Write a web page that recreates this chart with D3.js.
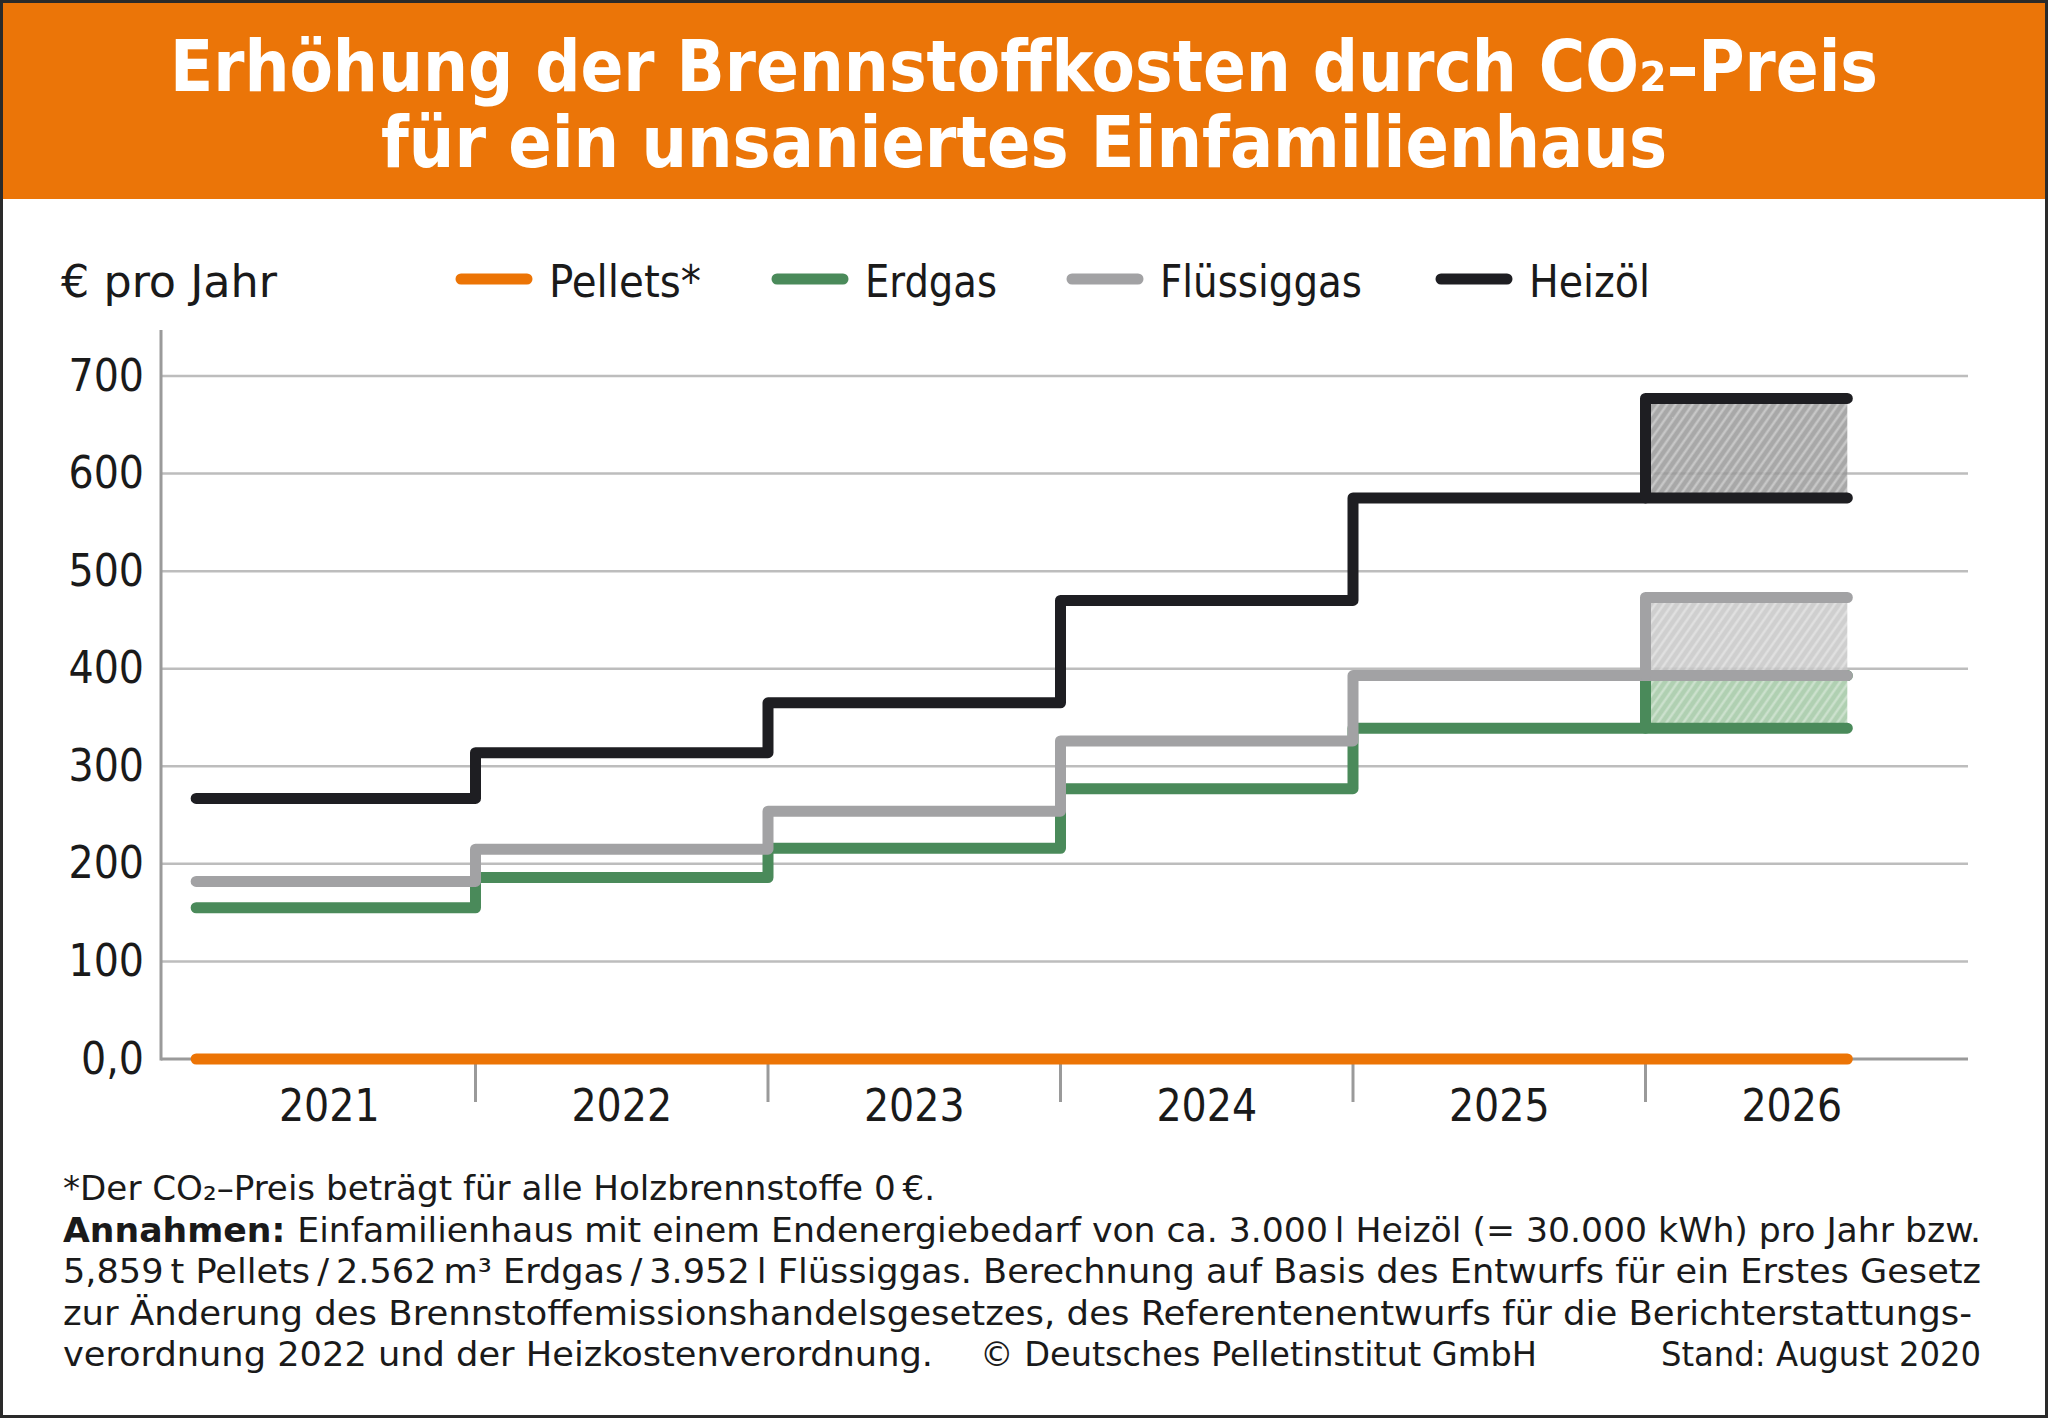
<!DOCTYPE html>
<html>
<head>
<meta charset="utf-8">
<script src="https://cdn.jsdelivr.net/npm/d3@7"></script>
<style>
  body { margin: 0; background: #fff; }
  svg { display: block; }
  text { font-family: "DejaVu Sans Condensed", "DejaVu Sans", sans-serif; font-stretch: condensed; }
</style>
</head>
<body>
<svg id="chart" width="2048" height="1418"></svg>
<script>
// data (€ per year)
const years = ["2021", "2022", "2023", "2024", "2025", "2026"];
const seriesNames = ["Pellets*", "Erdgas", "Flüssiggas", "Heizöl"];
const pellets = [0, 0, 0, 0, 0, 0];
const erdgas = [155, 186, 216, 277, 339, 339];
const fluessiggas = [182, 215, 254, 326, 393, 393];
const heizoel = [267, 314, 365, 470, 575, 575];
// upper end of the 2026 range, same order as seriesNames
const max2026 = [0, 393, 473, 677];
const yTicks = [0, 100, 200, 300, 400, 500, 600, 700];
const yTickLabels = ["0,0", "100", "200", "300", "400", "500", "600", "700"];

const lineColors = ["#ec7405", "#4a8a5a", "#a2a2a4", "#1e1e22"];
const areaColors = [null, "#a2c8a4", "#c6c6c6", "#999999"];

const svg = d3.select("#chart");
const W = 2048, H = 1418;

function fit(sel, len) {
  sel.attr("textLength", len).attr("lengthAdjust", "spacingAndGlyphs");
  return sel;
}

// title bar
svg.append("rect").attr("x", 0).attr("y", 0).attr("width", W).attr("height", 199).attr("fill", "#eb7508");
fit(svg.append("text").attr("x", W / 2).attr("y", 91).attr("text-anchor", "middle")
  .attr("fill", "#fff").attr("font-size", 72).attr("font-weight", "bold")
  .text("Erhöhung der Brennstoffkosten durch CO₂–Preis"), 1708);
fit(svg.append("text").attr("x", W / 2).attr("y", 167).attr("text-anchor", "middle")
  .attr("fill", "#fff").attr("font-size", 72).attr("font-weight", "bold")
  .text("für ein unsaniertes Einfamilienhaus"), 1286);

// scales
const x = d3.scaleBand().domain(years).range([183, 1938]);
const y = d3.scaleLinear().domain([0, 700]).range([1059, 376]);
const bw = x.bandwidth();
const plotLeft = 161, plotRight = 1968;
const xs = x(years[0]) + bw * 0.045;
const xe = x(years[5]) + bw * 0.69;

// legend
fit(svg.append("text").attr("x", 61).attr("y", 297).attr("font-size", 45).attr("fill", "#1a1a1a")
  .text("€ pro Jahr"), 216);
const legendX = [461, 777, 1072, 1441];
const legendW = [152, 132, 202, 121];
seriesNames.forEach((name, i) => {
  svg.append("line").attr("x1", legendX[i]).attr("x2", legendX[i] + 66)
    .attr("y1", 279).attr("y2", 279)
    .attr("stroke", lineColors[i]).attr("stroke-width", 11).attr("stroke-linecap", "round");
  fit(svg.append("text").attr("x", legendX[i] + 88).attr("y", 297).attr("font-size", 45)
    .attr("fill", "#1a1a1a").text(name), legendW[i]);
});

// grid
svg.append("g").selectAll("line").data(yTicks.slice(1)).join("line")
  .attr("x1", plotLeft).attr("x2", plotRight)
  .attr("y1", d => y(d)).attr("y2", d => y(d))
  .attr("stroke", "#bdbdbd").attr("stroke-width", 2.5);

// y axis
const yAxis = svg.append("g").attr("transform", `translate(${plotLeft},0)`)
  .call(d3.axisLeft(y).tickValues(yTicks).tickFormat((d, i) => yTickLabels[i]).tickSize(0).tickPadding(17));
yAxis.select(".domain").remove();
yAxis.selectAll("text").attr("font-size", 44).attr("fill", "#1a1a1a")
  .style("font-family", "\"DejaVu Sans Condensed\", \"DejaVu Sans\", sans-serif");
svg.append("line").attr("x1", plotLeft).attr("x2", plotLeft).attr("y1", 330).attr("y2", y(0) + 1.5)
  .attr("stroke", "#9a9a9a").attr("stroke-width", 3);
svg.append("line").attr("x1", plotLeft).attr("x2", plotRight).attr("y1", y(0)).attr("y2", y(0))
  .attr("stroke", "#9a9a9a").attr("stroke-width", 3);

// x axis: year labels, ticks between years
const xAxis = svg.append("g").attr("transform", `translate(0,${y(0)})`)
  .call(d3.axisBottom(x).tickSize(0));
xAxis.select(".domain").remove();
xAxis.selectAll("text").attr("y", 62).attr("dy", 0).attr("font-size", 44).attr("fill", "#1a1a1a")
  .style("font-family", "\"DejaVu Sans Condensed\", \"DejaVu Sans\", sans-serif");
svg.append("g").selectAll("line").data(years.slice(1)).join("line")
  .attr("x1", d => x(d)).attr("x2", d => x(d))
  .attr("y1", y(0)).attr("y2", y(0) + 43)
  .attr("stroke", "#9a9a9a").attr("stroke-width", 3);

// hatch patterns for the 2026 range
const defs = svg.append("defs");
areaColors.forEach((c, i) => {
  if (!c) return;
  const p = defs.append("pattern").attr("id", "hatch" + i).attr("patternUnits", "userSpaceOnUse")
    .attr("width", 7).attr("height", 7).attr("patternTransform", "rotate(35)");
  p.append("rect").attr("width", 7).attr("height", 7).attr("fill", c);
  p.append("line").attr("x1", 1.5).attr("x2", 1.5).attr("y1", 0).attr("y2", 7)
    .attr("stroke", "#fff").attr("stroke-opacity", 0.4).attr("stroke-width", 2.2);
});

const allSeries = [pellets, erdgas, fluessiggas, heizoel];

// areas
const area = d3.area().x(d => d[0]).y0(d => y(d[1])).y1(d => y(d[2]));
allSeries.forEach((vals, i) => {
  if (!areaColors[i]) return;
  svg.append("path")
    .attr("d", area([[x(years[5]), vals[5], max2026[i]], [xe, vals[5], max2026[i]]]))
    .attr("fill", `url(#hatch${i})`).attr("opacity", 0.85);
});

// step lines
const step = d3.line().x(d => d[0]).y(d => y(d[1])).curve(d3.curveStepAfter);
const plain = d3.line().x(d => d[0]).y(d => y(d[1]));
allSeries.forEach((vals, i) => {
  const pts = vals.map((v, j) => [j === 0 ? xs : x(years[j]), v]);
  pts.push([xe, vals[5]]);
  const g = svg.append("g").attr("fill", "none").attr("stroke", lineColors[i])
    .attr("stroke-width", 11).attr("stroke-linecap", "round").attr("stroke-linejoin", "round");
  g.append("path").attr("d", step(pts));
  if (max2026[i] > vals[5]) {
    g.append("path").attr("d", plain([[x(years[5]), vals[5]], [x(years[5]), max2026[i]], [xe, max2026[i]]]));
  }
});

// footnotes
const foot = svg.append("g").attr("font-size", 34).attr("fill", "#1a1a1a");
fit(foot.append("text").attr("x", 63).attr("y", 1200)
  .text("*Der CO₂–Preis beträgt für alle Holzbrennstoffe 0\u2009€."), 872);
const f2 = foot.append("text").attr("x", 63).attr("y", 1242);
f2.append("tspan").attr("font-weight", "bold").text("Annahmen: ");
f2.append("tspan").text("Einfamilienhaus mit einem Endenergiebedarf von ca. 3.000\u2009l Heizöl (= 30.000 kWh) pro Jahr bzw.");
fit(f2, 1918);
fit(foot.append("text").attr("x", 63).attr("y", 1283)
  .text("5,859\u2009t Pellets\u2009/\u20092.562\u2009m³ Erdgas\u2009/\u20093.952\u2009l Flüssiggas. Berechnung auf Basis des Entwurfs für ein Erstes Gesetz"), 1918);
fit(foot.append("text").attr("x", 63).attr("y", 1325)
  .text("zur Änderung des Brennstoffemissionshandelsgesetzes, des Referentenentwurfs für die Berichterstattungs-"), 1909);
fit(foot.append("text").attr("x", 63).attr("y", 1366).text("verordnung 2022 und der Heizkostenverordnung."), 870);
fit(foot.append("text").attr("x", 980).attr("y", 1366).text("© Deutsches Pelletinstitut GmbH"), 557);
fit(foot.append("text").attr("x", 1661).attr("y", 1366).text("Stand: August 2020"), 320);

// frame
svg.append("rect").attr("x", 1.5).attr("y", 1.5).attr("width", W - 3).attr("height", H - 3)
  .attr("fill", "none").attr("stroke", "#2a2a2a").attr("stroke-width", 3);
</script>
</body>
</html>
